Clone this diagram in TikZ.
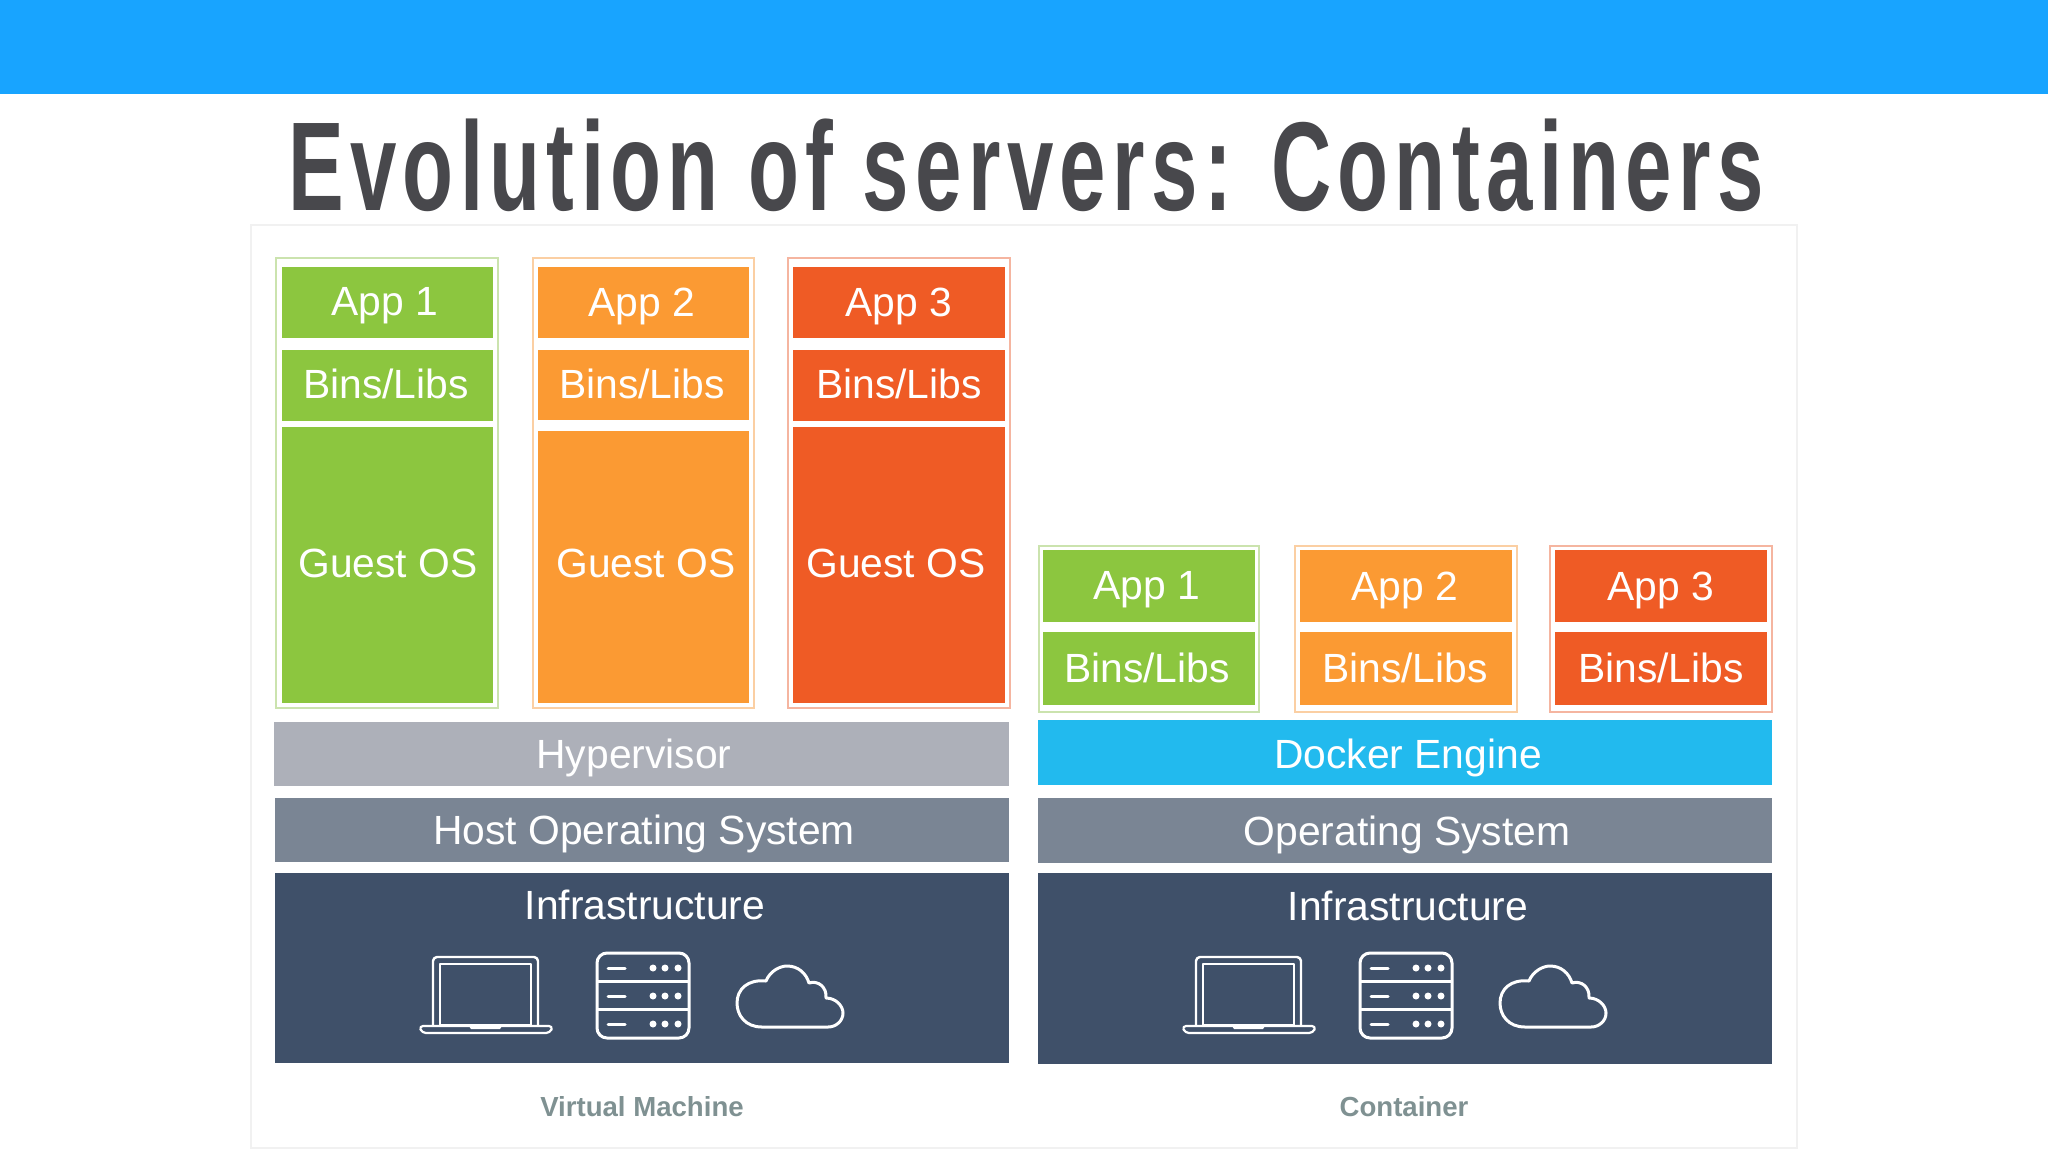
\documentclass[tikz,border=0pt]{standalone}
\usepackage{fontspec}
\usepackage{xcolor}
\setmainfont{Liberation Sans}
\newfontfamily\titlefont[FakeStretch=0.66,LetterSpace=5]{Liberation Sans}
\usetikzlibrary{
    calc,
    positioning
}
\definecolor{barblue}{HTML}{18A4FF}
\definecolor{titlegray}{HTML}{48484C}
\definecolor{panelline}{HTML}{F1F1F1}
\definecolor{appgreen}{HTML}{8CC63F}
\definecolor{appgreenline}{HTML}{CBE3AE}
\definecolor{apporange}{HTML}{FB9A33}
\definecolor{apporangeline}{HTML}{FBCFA3}
\definecolor{appred}{HTML}{EF5B25}
\definecolor{appredline}{HTML}{F5B5A0}
\definecolor{hypergray}{HTML}{ADB0B9}
\definecolor{dockerblue}{HTML}{22BAEE}
\definecolor{hostgray}{HTML}{7A8594}
\definecolor{infrablue}{HTML}{3F5069}
\definecolor{captiongray}{HTML}{7F9192}
\tikzset{
    lbl/.style={text=white, font=\fontsize{20.4}{24}\selectfont, inner sep=0pt},
    caption/.style={text=captiongray, font=\bfseries\fontsize{13.8}{17}\selectfont, inner sep=0pt},
    icon/.style={draw=white, line width=1.5pt, line join=round},
    laptopicon/.pic={
        \draw[icon, line width=1.2pt, rounded corners=2pt] (14,38) -- (14,-30) -- (119,-30) -- (119,38);
        \draw[icon, line width=1.1pt] (21,38) -- (21,-23) -- (112,-23) -- (112,38) -- cycle;
        \draw[icon, line width=1.1pt, rounded corners=2pt] (0,39) -- (134,39) -- (131,46) -- (3,46) -- cycle;
        \fill[white] (50,39) -- (83,39) -- (81,42) -- (52,42) -- cycle;
    },
    servericon/.pic={
        \draw[icon, rounded corners=5pt] (0,0) rectangle (92,85);
        \draw[icon] (0,28) -- (92,28) (0,56) -- (92,56);
        \foreach \rowy in {15,43,71} {
            \draw[icon, line cap=round] (11,\rowy) -- (28,\rowy);
            \fill[white] (56,\rowy) circle (3.5) (68,\rowy) circle (3.5) (81,\rowy) circle (3.5);
        }
    },
    cloudicon/.pic={
        \draw[icon] (26,62) .. controls (9,62) and (1,50) .. (1,38)
            .. controls (1,24) and (12,14) .. (30,16)
            .. controls (34,6) and (44,1) .. (51,1)
            .. controls (62,1) and (70,8) .. (73,18)
            .. controls (82,15) and (91,22) .. (90,33)
            .. controls (100,33) and (107,41) .. (107,48)
            .. controls (107,56) and (100,62) .. (92,62) -- cycle;
    }
}

\begin{document}
\begin{tikzpicture}[x=0.5pt, y=-0.5pt]
    \useasboundingbox (0, 0) rectangle (2048, 1152);
    \fill[barblue] (0, 0) rectangle (2048, 94);
    \node[text=titlegray, inner sep=0pt, font=\titlefont\bfseries\fontsize{63.2}{68}\selectfont] (title) at (1026, 165) {Evolution of servers: Containers};
    \draw[panelline, line width=1pt] (251, 225) rectangle (1797, 1148);
    % virtual machine stacks
    \draw[appgreenline, line width=1pt] (276, 258) rectangle (498, 708);
    \fill[appgreen] (282, 267) rectangle (493, 338);
    \fill[appgreen] (282, 350) rectangle (493, 421);
    \fill[appgreen] (282, 427) rectangle (493, 703);
    \node[lbl] (vmappa) at (385, 306) {App 1};
    \node[lbl] (vmbinsa) at (386, 384) {Bins/Libs};
    \node[lbl] (vmosa) at (388, 563) {Guest OS};
    \draw[apporangeline, line width=1pt] (533, 258) rectangle (754, 708);
    \fill[apporange] (538, 267) rectangle (749, 338);
    \fill[apporange] (538, 350) rectangle (749, 420);
    \fill[apporange] (538, 431) rectangle (749, 703);
    \node[lbl] (vmappb) at (642, 306) {App 2};
    \node[lbl] (vmbinsb) at (642, 384) {Bins/Libs};
    \node[lbl] (vmosb) at (646, 563) {Guest OS};
    \draw[appredline, line width=1pt] (788, 258) rectangle (1010, 708);
    \fill[appred] (793, 267) rectangle (1005, 338);
    \fill[appred] (793, 350) rectangle (1005, 421);
    \fill[appred] (793, 427) rectangle (1005, 703);
    \node[lbl] (vmappc) at (899, 306) {App 3};
    \node[lbl] (vmbinsc) at (899, 384) {Bins/Libs};
    \node[lbl] (vmosc) at (896, 563) {Guest OS};
    % container stacks
    \draw[appgreenline, line width=1pt] (1039, 546) rectangle (1259, 712);
    \fill[appgreen] (1043, 550) rectangle (1255, 622);
    \fill[appgreen] (1043, 632) rectangle (1255, 705);
    \node[lbl] (ctappa) at (1147, 590) {App 1};
    \node[lbl] (ctbinsa) at (1147, 668) {Bins/Libs};
    \draw[apporangeline, line width=1pt] (1295, 546) rectangle (1517, 712);
    \fill[apporange] (1300, 550) rectangle (1512, 622);
    \fill[apporange] (1300, 632) rectangle (1512, 705);
    \node[lbl] (ctappb) at (1405, 590) {App 2};
    \node[lbl] (ctbinsb) at (1405, 668) {Bins/Libs};
    \draw[appredline, line width=1pt] (1550, 546) rectangle (1772, 712);
    \fill[appred] (1555, 550) rectangle (1767, 622);
    \fill[appred] (1555, 632) rectangle (1767, 705);
    \node[lbl] (ctappc) at (1661, 590) {App 3};
    \node[lbl] (ctbinsc) at (1661, 668) {Bins/Libs};
    % layers
    \fill[hypergray] (274, 722) rectangle (1009, 786);
    \node[lbl] (hyper) at (634, 758) {Hypervisor};
    \fill[hostgray] (275, 798) rectangle (1009, 862);
    \node[lbl] (host) at (644, 834) {Host Operating System};
    \fill[infrablue] (275, 873) rectangle (1009, 1063);
    \node[lbl] (infraa) at (645, 905) {Infrastructure};
    \fill[dockerblue] (1038, 720) rectangle (1772, 785);
    \node[lbl] (docker) at (1408, 758) {Docker Engine};
    \fill[hostgray] (1038, 798) rectangle (1772, 863);
    \node[lbl] (os) at (1407, 835) {Operating System};
    \fill[infrablue] (1038, 873) rectangle (1772, 1064);
    \node[lbl] (infrab) at (1408, 906) {Infrastructure};
    % icons
    \pic at (419, 987) {laptopicon};
    \pic at (597, 953) {servericon};
    \pic at (736, 965) {cloudicon};
    \pic at (1182, 987) {laptopicon};
    \pic at (1360, 953) {servericon};
    \pic at (1499, 965) {cloudicon};
    % captions
    \node[caption] (vmcap) at (642, 1107) {Virtual Machine};
    \node[caption] (ctcap) at (1404, 1107) {Container};
\end{tikzpicture}
\end{document}
